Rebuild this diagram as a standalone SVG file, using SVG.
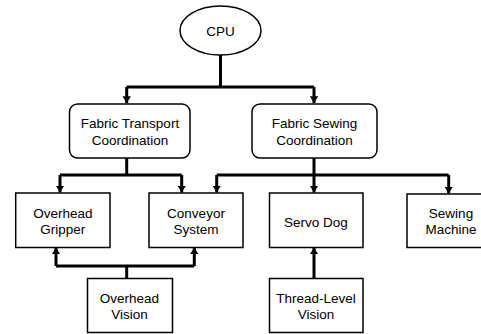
<svg xmlns="http://www.w3.org/2000/svg" width="481" height="334" viewBox="0 0 481 334">
<defs>
<style>
.box{fill:#fff;stroke:#000;stroke-width:1.5}
.t{font-family:"Liberation Sans",Arial,sans-serif;font-size:13.5px;fill:#000;text-anchor:middle}
.c{fill:none;stroke:#000;stroke-width:3;stroke-linejoin:miter}
</style>
<marker id="ah" viewBox="0 0 8 10" refX="8" refY="5" markerWidth="2.4" markerHeight="2.8" orient="auto" markerUnits="strokeWidth">
<path d="M0,0 L8,5 L0,10 z" fill="#000"/>
</marker>
</defs>
<rect width="481" height="334" fill="#fff"/>
<g id="connectors">
<path class="c" d="M220.5,55 V87"/>
<path class="c" d="M126.7,87 H314" />
<path class="c" d="M126.7,87 V103" marker-end="url(#ah)"/>
<path class="c" d="M314,87 V103" marker-end="url(#ah)"/>
<path class="c" d="M126.7,158 V175"/>
<path class="c" d="M60,175 H181.7"/>
<path class="c" d="M60,175 V192.5" marker-end="url(#ah)"/>
<path class="c" d="M181.7,175 V192.5" marker-end="url(#ah)"/>
<path class="c" d="M314,158 V192.5" marker-end="url(#ah)"/>
<path class="c" d="M216.7,175 H448.7"/>
<path class="c" d="M216.7,175 V192.5" marker-end="url(#ah)"/>
<path class="c" d="M448.7,175 V193.5" marker-end="url(#ah)"/>
<path class="c" d="M126.7,278 V266"/>
<path class="c" d="M56,266 H194.3"/>
<path class="c" d="M56,266 V247.5" marker-end="url(#ah)"/>
<path class="c" d="M194.3,266 V247.5" marker-end="url(#ah)"/>
<path class="c" d="M314,278 V247.5" marker-end="url(#ah)"/>
</g>
<g id="cpu">
<ellipse class="box" cx="220.5" cy="30.5" rx="40.5" ry="24.5"/>
<text class="t" x="220.5" y="36">CPU</text>
</g>
<g id="fabric-transport">
<rect class="box" x="69.5" y="104" width="120.5" height="54" rx="8"/>
<text class="t" x="130" y="128">Fabric Transport</text>
<text class="t" x="130" y="144.5">Coordination</text>
</g>
<g id="fabric-sewing">
<rect class="box" x="252" y="104" width="125" height="54" rx="8"/>
<text class="t" x="314.5" y="128">Fabric Sewing</text>
<text class="t" x="314.5" y="144.5">Coordination</text>
</g>
<g id="overhead-gripper">
<rect class="box" x="15.7" y="193" width="94.3" height="54.5"/>
<text class="t" x="62.8" y="217.5">Overhead</text>
<text class="t" x="62.8" y="233.5">Gripper</text>
</g>
<g id="conveyor-system">
<rect class="box" x="149" y="193" width="94" height="54.5"/>
<text class="t" x="196" y="217.5">Conveyor</text>
<text class="t" x="196" y="233.5">System</text>
</g>
<g id="servo-dog">
<rect class="box" x="269.5" y="193" width="93.5" height="54.5"/>
<text class="t" x="316" y="226.5">Servo Dog</text>
</g>
<g id="sewing-machine">
<rect class="box" x="407" y="194" width="90" height="53.5"/>
<text class="t" x="451" y="217.5">Sewing</text>
<text class="t" x="451" y="233.5">Machine</text>
</g>
<g id="overhead-vision">
<rect class="box" x="87.5" y="278.5" width="85" height="54"/>
<text class="t" x="129.5" y="302.5">Overhead</text>
<text class="t" x="129.5" y="319">Vision</text>
</g>
<g id="thread-level-vision">
<rect class="box" x="269.5" y="278.5" width="93.5" height="54"/>
<text class="t" x="316" y="302.5">Thread-Level</text>
<text class="t" x="316" y="319">Vision</text>
</g>
</svg>
